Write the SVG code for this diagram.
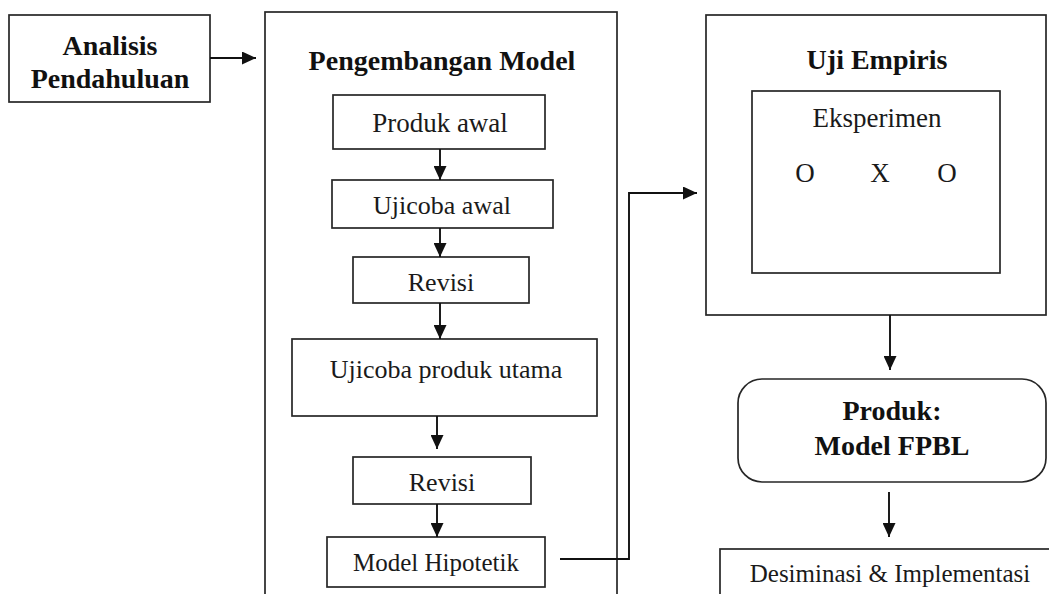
<svg xmlns="http://www.w3.org/2000/svg" width="1049" height="594" viewBox="0 0 1049 594">
<style>
.box{fill:#fff;stroke:#262626;stroke-width:1.7}
.con{fill:none;stroke:#111;stroke-width:1.9}
.t{font-family:"Liberation Serif","Times New Roman",serif;font-size:26px;fill:#1a1a1a;text-anchor:middle}
.b{font-family:"Liberation Serif","Times New Roman",serif;font-size:28px;font-weight:bold;fill:#111;text-anchor:middle}
</style>
<defs>
<marker id="ah" markerUnits="userSpaceOnUse" markerWidth="15" markerHeight="13" refX="14" refY="6.5" orient="auto">
<path d="M0,0 L14,6.5 L0,13 z" fill="#111"/>
</marker>
</defs>
<rect width="1049" height="594" fill="#fff"/>
<g id="analisis">
<rect class="box" x="9" y="15" width="201" height="87"/>
<text class="b" x="110" y="55">Analisis</text>
<text class="b" x="110" y="88">Pendahuluan</text>
</g>
<g id="pengembangan">
<rect class="box" x="265" y="12" width="352" height="600"/>
<text class="b" x="442" y="70">Pengembangan Model</text>
</g>
<g id="produk-awal">
<rect class="box" x="333" y="95" width="212" height="54"/>
<text class="t" x="440" y="132" style="font-size:27px">Produk awal</text>
</g>
<g id="ujicoba-awal">
<rect class="box" x="332" y="180" width="221" height="48"/>
<text class="t" x="442" y="214">Ujicoba awal</text>
</g>
<g id="revisi1">
<rect class="box" x="353" y="257" width="176" height="46"/>
<text class="t" x="441" y="291">Revisi</text>
</g>
<g id="ujicoba-utama">
<rect class="box" x="292" y="339" width="305" height="77"/>
<text class="t" x="446" y="378">Ujicoba produk utama</text>
</g>
<g id="revisi2">
<rect class="box" x="353" y="457" width="178" height="47"/>
<text class="t" x="442" y="491">Revisi</text>
</g>
<g id="model-hipotetik">
<rect class="box" x="327" y="537" width="218" height="50"/>
<text class="t" x="436" y="571" style="font-size:25px">Model Hipotetik</text>
</g>
<g id="uji-empiris">
<rect class="box" x="706" y="15" width="340" height="300"/>
<text class="b" x="877" y="69">Uji Empiris</text>
</g>
<g id="eksperimen">
<rect class="box" x="752" y="91" width="248" height="182"/>
<text class="t" x="877" y="127" style="font-size:27px">Eksperimen</text>
<text class="t" x="805" y="182" style="font-size:27px">O</text>
<text class="t" x="880" y="182" style="font-size:27px">X</text>
<text class="t" x="947" y="182" style="font-size:27px">O</text>
</g>
<g id="produk-fpbl">
<rect class="box" x="738" y="379" width="308" height="103" rx="24" ry="24"/>
<text class="b" x="892" y="420">Produk:</text>
<text class="b" x="892" y="455">Model FPBL</text>
</g>
<g id="desiminasi">
<rect class="box" x="720" y="549" width="340" height="60"/>
<text class="t" x="890" y="582" style="font-size:25px">Desiminasi &amp; Implementasi</text>
</g>
<g id="connectors">
<path class="con" d="M210,58 H256" marker-end="url(#ah)"/>
<path class="con" d="M440,149 V180" marker-end="url(#ah)"/>
<path class="con" d="M440,228 V257" marker-end="url(#ah)"/>
<path class="con" d="M440,303 V339" marker-end="url(#ah)"/>
<path class="con" d="M437,416 V449" marker-end="url(#ah)"/>
<path class="con" d="M437,504 V537" marker-end="url(#ah)"/>
<path class="con" d="M560,559 H629 V193 H697" marker-end="url(#ah)"/>
<path class="con" d="M890,315 V370" marker-end="url(#ah)"/>
<path class="con" d="M889,492 V537" marker-end="url(#ah)"/>
</g>
</svg>
